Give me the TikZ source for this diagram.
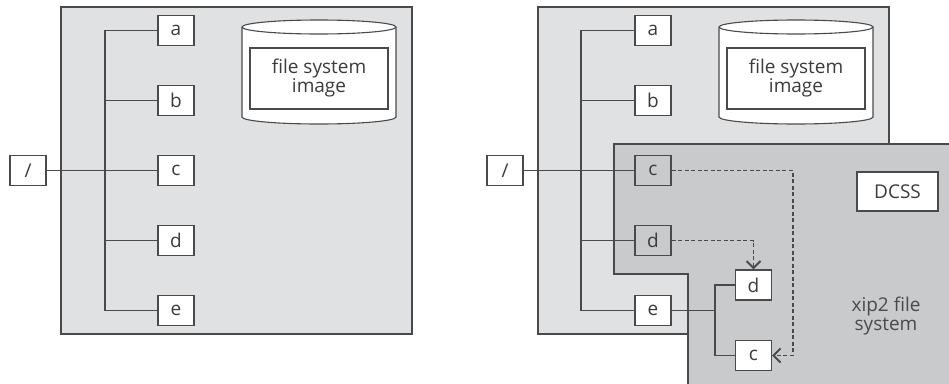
\documentclass[tikz,border=0pt]{standalone}
\usepackage{fontspec}
\setmainfont{Open Sans}
\usetikzlibrary{arrows.meta}
\definecolor{panelgray}{HTML}{E0E1E3}
\definecolor{dcssgray}{HTML}{C9CACC}
\definecolor{linegray}{HTML}{4A4A4A}
\definecolor{textgray}{HTML}{3C3C3C}

\begin{document}
\begin{tikzpicture}[x=1pt, y=-1pt,
    every node/.style={text=textgray, font=\fontsize{19}{19}\selectfont},
    dirbox/.style={draw=linegray, line width=1.2pt, fill=white, inner sep=0pt,
                   minimum width=36pt, minimum height=30pt},
    link/.style={draw=linegray, line width=1.1pt},
    copylink/.style={draw=linegray, line width=1.1pt, dashed, dash pattern=on 4pt off 2.5pt,
                     -{Straight Barb[length=7pt, width=14pt, line width=2pt]}}]
\useasboundingbox (0,0) rectangle (949,383);
%
% left: file system image
\fill[panelgray, draw=linegray, line width=1.1pt] (61,7) rectangle (412,334);
\filldraw[fill=white, draw=linegray, line width=1.1pt] (242,27) -- (242,117) arc (180:0:77 and 7)
     -- (396,27) arc (0:-180:77 and 7) -- cycle;
\draw[linegray, line width=1.1pt] (242,27) arc (180:0:77 and 7);
\node [dirbox, minimum width=138pt, minimum height=61pt, align=center] at (319,78.5) (img)
     {file system\\image};
%
             \node [dirbox] at (28,170.5) (root) {/};
             \node [dirbox] at (176,30.5) (a) {a};
             \node [dirbox] at (176,100.5) (b) {b};
             \node [dirbox] at (176,170.5) (c) {c};
             \node [dirbox] at (176,240.5) (d) {d};
             \node [dirbox] at (176,310.5) (e) {e};
             \coordinate (t) at (105,170.5);
%
\draw[link] (root) -- (c);
\draw[link] (a) -| (t);
\draw[link] (b) -| (t);
\draw[link] (d) -| (t);
\draw[link] (e) -| (t);
%
% right: with the xip2 DCSS mounted over it
\fill[panelgray, draw=linegray, line width=1.1pt] (538,7) rectangle (889,334);
\filldraw[fill=white, draw=linegray, line width=1.1pt] (719,27) -- (719,117) arc (180:0:77 and 7)
     -- (873,27) arc (0:-180:77 and 7) -- cycle;
\draw[linegray, line width=1.1pt] (719,27) arc (180:0:77 and 7);
\node [dirbox, minimum width=138pt, minimum height=61pt, align=center] at (796,78.5) (rimg)
     {file system\\image};
\fill[dcssgray] (614,144) -- (950,144) -- (950,384) -- (688,384) -- (688,274) -- (614,274) -- cycle;
\draw[linegray, line width=1.1pt] (950,144) -- (614,144) -- (614,274) -- (688,274) -- (688,384);
%
             \node [dirbox] at (505,170.5) (rroot) {/};
             \node [dirbox] at (653,30.5) (ra) {a};
             \node [dirbox] at (653,100.5) (rb) {b};
             \node [dirbox, fill=dcssgray] at (653,170.5) (rc) {c};
             \node [dirbox, fill=dcssgray] at (653,240.5) (rd) {d};
             \node [dirbox] at (653,310.5) (re) {e};
             \node [dirbox] at (753.5,285) (xd) {d};
             \node [dirbox] at (753.5,355.5) (xc) {c};
             \node [dirbox, minimum width=81pt, minimum height=39pt] at (897.5,191.5) (dcss) {DCSS};
             \node [align=center, text=linegray] at (886,316) (xip) {xip2 file\\system};
             \coordinate (rt) at (581,170.5);
             \coordinate (br) at (715,310.5);
             \coordinate (cc) at (793,170.5);
%
\draw[link] (rroot) -- (rc);
\draw[link] (ra) -| (rt);
\draw[link] (rb) -| (rt);
\draw[link] (rd) -| (rt);
\draw[link] (re) -| (rt);
\draw[link] (re) -- (br);
\draw[link] (xd) -| (br);
\draw[link] (xc) -| (br);
\draw[copylink] (rd) -| (xd);
\draw[copylink] (rc) -- (cc) |- (xc);
\end{tikzpicture}
\end{document}
